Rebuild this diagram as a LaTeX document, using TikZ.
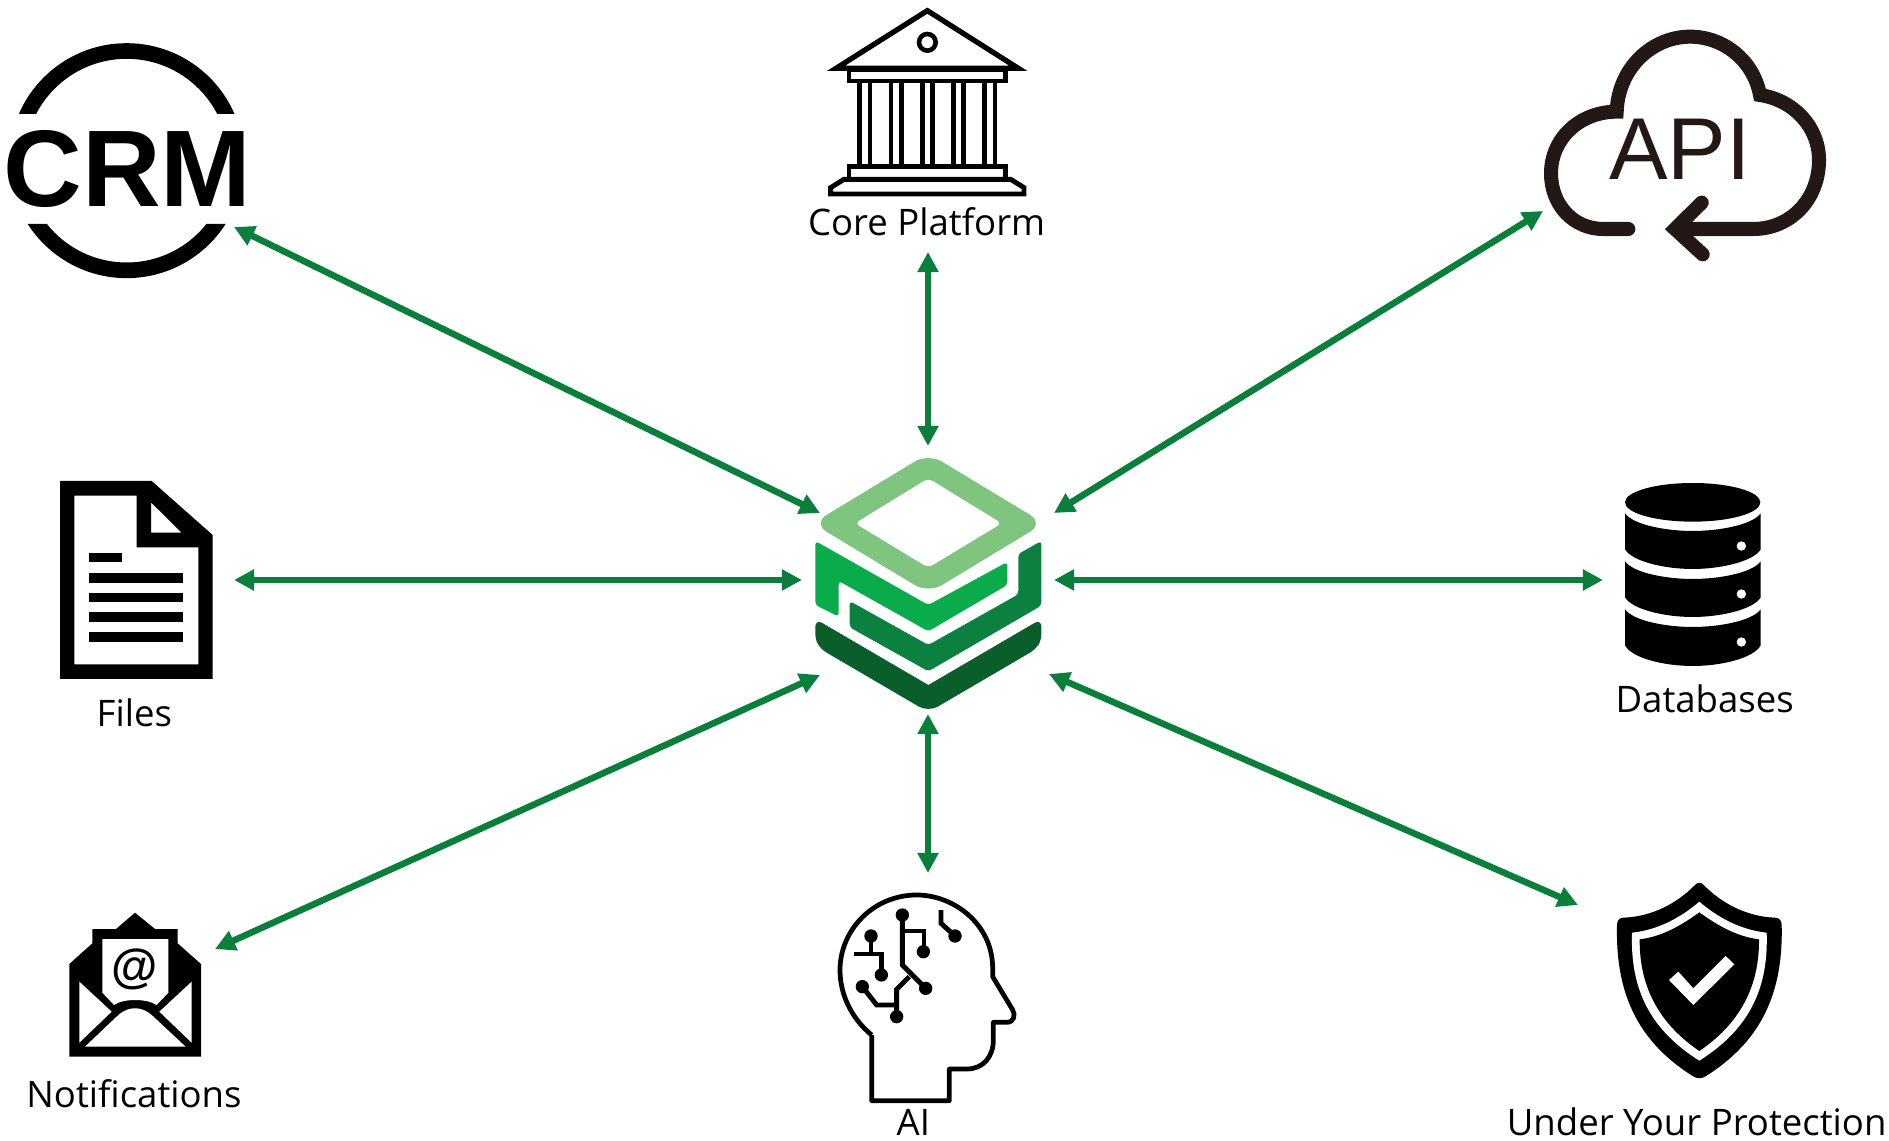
\documentclass[tikz,border=0pt]{standalone}
\usepackage{fontspec}
\setmainfont{Open Sans}
\newfontfamily\iconfont{Liberation Sans}
\usepackage{tikz}
\usepackage{xcolor}
\usetikzlibrary{arrows.meta}

\definecolor{linkgreen}{HTML}{0A7F3C}
\definecolor{hublight}{HTML}{7FC57F}
\definecolor{hubmid}{HTML}{0AAB4B}
\definecolor{hubdark}{HTML}{0B8040}
\definecolor{hubdeep}{HTML}{0A5E2C}
\definecolor{apiblack}{HTML}{231815}

\tikzset{
	link/.style={<->, >={Triangle[length=11.5pt,width=11.5pt]}, line width=3.7pt, color=linkgreen},
	iconlabel/.style={anchor=base, inner sep=0pt, font=\fontsize{20.8}{24}\selectfont},
	thinicon/.style={line width=2.8pt, color=black}
}

\begin{document}
\begin{tikzpicture}[x=0.02cm,y=-0.02cm]
	\useasboundingbox (0,0) rectangle (1889,1141);

	\begin{scope}[shift={(780,430)},scale=1/3]
		\fill[hublight, rounded corners=9pt] (445,70) -- (792,280) -- (445,490) -- (98,280) -- cycle;
		\fill[white, rounded corners=3pt] (445,145) -- (665,280) -- (445,413) -- (225,280) -- cycle;
		\fill[hubmid, rounded corners=2pt] (106,333) -- (445,525) -- (682,396) -- (682,465) -- (445,604) -- (176,453) -- (176,560) -- (106,525) -- cycle;
		\fill[hubdark, rounded corners=2pt] (784,333) -- (784,527) -- (445,724) -- (209,592) -- (209,513) -- (445,645) -- (715,493) -- (715,372) -- cycle;
		\fill[hubdeep] (106,590) .. controls (106,578) and (115,572) .. (125,578) -- (445,765) -- (765,578) .. controls (775,572) and (784,578) .. (784,590) -- (784,610) .. controls (784,640) and (770,655) .. (750,668) -- (480,826) .. controls (460,840) and (430,840) .. (410,826) -- (140,668) .. controls (120,655) and (106,640) .. (106,610) -- cycle;
	\end{scope}

	\begin{scope}[scale=1/3]
		\begin{scope}
			\clip (0,0) rectangle (760,342) (0,672) rectangle (760,900);
			\draw[line width=8.9pt] (380,482) circle (329);
		\end{scope}
		\node[inner sep=0pt, font=\iconfont\bfseries\fontsize{62}{62}\selectfont] (crmtext) at (383,506) {CRM};
	\end{scope}

	\begin{scope}[shift={(800,0)},scale=1/3]
		\draw[line width=3pt, line join=miter] (382,32) -- (655,205) -- (108,205) -- cycle;
		\draw[line width=2.6pt] (382,127) circle (25);
		\draw[thinicon] (147,208) rectangle (617,243);
		\draw[thinicon] (178,243) -- (178,500) (210,243) -- (210,500);
		\draw[thinicon] (273,243) -- (273,500) (304,243) -- (304,500);
		\draw[thinicon] (367,243) -- (367,500) (398,243) -- (398,500);
		\draw[thinicon] (460,243) -- (460,500) (491,243) -- (491,500);
		\draw[thinicon] (554,243) -- (554,500) (585,243) -- (585,500);
		\draw[thinicon] (147,500) rectangle (617,538);
		\draw[thinicon] (132,538) -- (92,563) -- (92,582) -- (672,582) -- (672,563) -- (632,538) -- cycle;
		\node[iconlabel] (coretext) at (380,706) {Core Platform};
	\end{scope}

	\begin{scope}[shift={(1520,10)},scale=1/3]
		\draw[apiblack, line width=8pt, line cap=round] (325,657) -- (250,657) .. controls (160,657) and (93,585) .. (93,490) .. controls (93,385) and (180,305) .. (290,305) .. controls (295,170) and (400,80) .. (510,80) .. controls (610,80) and (700,150) .. (720,255) .. controls (820,270) and (897,350) .. (897,450) .. controls (897,570) and (810,657) .. (700,657) -- (470,657);
		\draw[apiblack, line width=8pt, line cap=round, line join=miter] (545,578) -- (465,657) -- (548,733);
		\node[inner sep=0pt, text=apiblack, font=\iconfont\fontsize{50}{50}\selectfont] (apitext) at (480,418) {API};
	\end{scope}

	\begin{scope}[shift={(40,470)},scale=1/3]
		\fill[even odd rule] (60,33) -- (335,33) -- (518,195) -- (518,627) -- (60,627) -- cycle (103,77) -- (290,77) -- (290,232) -- (475,232) -- (475,583) -- (103,583) -- cycle (333,97) -- (333,188) -- (425,188) -- cycle;
		\fill (148,248) rectangle (245,277);
		\fill (148,308) rectangle (430,338);
		\fill (148,368) rectangle (430,396);
		\fill (148,427) rectangle (430,456);
		\fill (148,486) rectangle (430,515);
		\node[iconlabel] (filestext) at (283,771) {Files};
	\end{scope}

	\begin{scope}[shift={(1590,470)},scale=1/3]
		\fill (308,97) ellipse (203 and 58);
		\fill (105,130) .. controls (130,165) and (230,183) .. (308,183) .. controls (386,183) and (487,165) .. (512,130) -- (512,238) .. controls (490,275) and (390,297) .. (308,297) .. controls (226,297) and (127,275) .. (105,238) -- cycle;
		\fill (105,274) .. controls (130,309) and (230,327) .. (308,327) .. controls (386,327) and (487,309) .. (512,274) -- (512,382) .. controls (490,419) and (390,441) .. (308,441) .. controls (226,441) and (127,419) .. (105,382) -- cycle;
		\fill (105,418) .. controls (130,453) and (230,471) .. (308,471) .. controls (386,471) and (487,453) .. (512,418) -- (512,526) .. controls (490,566) and (390,588) .. (308,588) .. controls (226,588) and (127,566) .. (105,526) -- cycle;
		\fill[white] (454,228) circle (14);
		\fill[white] (454,372) circle (14);
		\fill[white] (454,516) circle (14);
		\node[iconlabel] (dbtext) at (344,728) {Databases};
	\end{scope}

	\begin{scope}[shift={(40,890)},scale=1/3]
		\fill (285,68) -- (345,117) -- (413,117) -- (413,160) -- (483,222) -- (483,500) -- (88,500) -- (88,222) -- (157,160) -- (157,117) -- (228,117) -- cycle;
		\fill[white] (187,147) -- (385,147) -- (385,308) -- (350,345) .. controls (320,325) and (250,325) .. (222,345) -- (187,308) -- cycle;
		\fill[white] (118,275) -- (215,365) -- (118,458) -- cycle;
		\fill[white] (455,275) -- (358,365) -- (455,458) -- cycle;
		\fill[white] (135,470) -- (235,375) .. controls (265,348) and (305,348) .. (335,375) -- (437,470) -- cycle;
		\node[inner sep=0pt, font=\iconfont\bfseries\fontsize{27}{27}\selectfont] (attext) at (285,238) {@};
		\node[iconlabel] (notiftext) at (282,651) {Notifications};
	\end{scope}

	\begin{scope}[shift={(810,870)},scale=1/3]
		\draw[line width=2.7pt, line join=round] (185,495) -- (185,692) -- (418,692) -- (418,597) -- (470,597) .. controls (520,597) and (550,560) .. (550,510) -- (550,457) -- (590,457) .. controls (612,457) and (618,435) .. (607,418) -- (548,320) -- (548,290) .. controls (545,160) and (430,75) .. (320,75) .. controls (190,75) and (90,180) .. (90,300) .. controls (90,380) and (130,450) .. (185,495);
		\draw[thinicon] (277,135) -- (277,285) -- (347,355);
		\draw[thinicon] (277,183) -- (342,183) -- (342,245);
		\draw[thinicon] (183,198) -- (183,252);
		\draw[thinicon] (132,252) -- (214,252) -- (214,315);
		\draw[thinicon] (393,120) -- (393,160) -- (435,198);
		\draw[thinicon] (157,350) -- (200,405) -- (260,405);
		\draw[thinicon] (298,320) -- (260,358) -- (260,440);
		\fill (277,135) circle (20);
		\fill (183,198) circle (20);
		\fill (340,245) circle (20);
		\fill (435,198) circle (20);
		\fill (214,315) circle (20);
		\fill (157,350) circle (20);
		\fill (347,355) circle (20);
		\fill (260,440) circle (20);
		\node[iconlabel] (aitext) at (310,797) {AI};
	\end{scope}

	\begin{scope}[shift={(1500,870)},scale=1/3]
		\fill (585,45) .. controls (593,36) and (603,36) .. (611,45) .. controls (665,100) and (740,140) .. (825,143) .. controls (838,143) and (845,152) .. (845,165) .. controls (850,360) and (790,510) .. (618,618) .. controls (605,627) and (591,627) .. (578,618) .. controls (406,510) and (346,360) .. (351,165) .. controls (351,152) and (358,143) .. (371,143) .. controls (456,140) and (531,100) .. (585,45) -- cycle;
		\fill[white] (598,95) .. controls (650,140) and (720,180) .. (800,188) .. controls (805,340) and (760,470) .. (598,572) .. controls (436,470) and (391,340) .. (396,188) .. controls (476,180) and (546,140) .. (598,95);
		\fill (598,127) .. controls (650,165) and (710,200) .. (777,208) .. controls (778,330) and (735,450) .. (598,543) .. controls (461,450) and (418,330) .. (419,208) .. controls (486,200) and (546,165) .. (598,127);
		\fill[white] (507,330) -- (535,305) -- (580,355) -- (677,258) -- (703,283) -- (580,405) -- cycle;
		\node[iconlabel] (shieldtext) at (590,795) {Under Your Protection};
	\end{scope}

	\coordinate (crmend) at (234,227);
	\coordinate (hubcrm) at (820,513);
	\coordinate (coreend) at (928,252);
	\coordinate (hubcore) at (928,446);
	\coordinate (apiend) at (1543,211);
	\coordinate (hubapi) at (1054,513);
	\coordinate (filesend) at (234,580);
	\coordinate (hubfiles) at (802,580);
	\coordinate (dbend) at (1603,580);
	\coordinate (hubdb) at (1054,580);
	\coordinate (notifend) at (215,949);
	\coordinate (hubnotif) at (820,675);
	\coordinate (aiend) at (928,873);
	\coordinate (hubai) at (928,714);
	\coordinate (shieldend) at (1578,905);
	\coordinate (hubshield) at (1049,674);

	\draw[link] (crmend) -- (hubcrm);
	\draw[link] (coreend) -- (hubcore);
	\draw[link] (apiend) -- (hubapi);
	\draw[link] (filesend) -- (hubfiles);
	\draw[link] (dbend) -- (hubdb);
	\draw[link] (notifend) -- (hubnotif);
	\draw[link] (aiend) -- (hubai);
	\draw[link] (shieldend) -- (hubshield);
\end{tikzpicture}
\end{document}
